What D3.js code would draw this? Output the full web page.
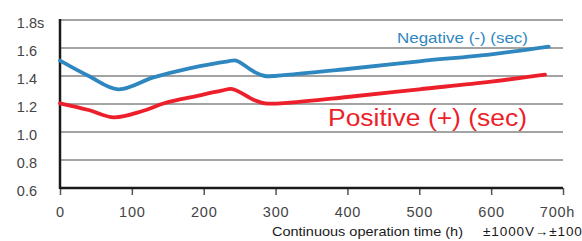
<!DOCTYPE html>
<html lang="en">
	<head>
		<meta charset="utf-8">
		<title>Continuous operation</title>
		<script type="text/javascript" src="https://cdn.jsdelivr.net/npm/d3@7"></script>
    <style>
      body{ margin: 0; background: white; }
      svg{ display: block; font-family: "Liberation Sans", Arial, "Noto Sans CJK JP", sans-serif; }
      g.grid line{ stroke: #a3a3a3; stroke-width: 2; }
      .series{ fill: none; stroke-width: 3.8; stroke-linejoin: round; stroke-linecap: round; }
    </style>
	</head>
	<body>
    <script type="text/javascript">

      // values
      const yTicks = [0.6, 0.8, 1.0, 1.2, 1.4, 1.6, 1.8];
      const xTicks = [0, 100, 200, 300, 400, 500, 600, 700];

      const negHours = [0, 40, 81, 130, 180, 234, 245, 270, 285, 320, 400, 500, 600, 680];
      const negValues = [1.51, 1.40, 1.305, 1.39, 1.455, 1.505, 1.51, 1.43, 1.40, 1.41, 1.45, 1.505, 1.555, 1.61];

      const posHours = [0, 40, 75, 115, 145, 190, 225, 240, 270, 285, 320, 400, 500, 600, 675];
      const posValues = [1.205, 1.157, 1.105, 1.15, 1.205, 1.257, 1.295, 1.307, 1.229, 1.205, 1.21, 1.25, 1.305, 1.36, 1.41];

      const width = 582, height = 241;
      const plotLeft = 60, plotRight = 563, plotTop = 20, plotBottom = 188;

      const x = d3.scaleLinear().domain([0, 700]).range([plotLeft, plotRight]);
      const y = d3.scaleLinear().domain([0.6, 1.8]).range([plotBottom, plotTop]);

      const svg = d3.select("body")
        .append("svg")
        .attr("width", width)
        .attr("height", height);

      // horizontal grid
      svg.append("g")
        .attr("class", "grid")
        .selectAll("line")
        .data(yTicks.slice(1))
        .join("line")
        .attr("x1", plotLeft)
        .attr("x2", plotRight)
        .attr("y1", (d) => y(d))
        .attr("y2", (d) => y(d));

      // y axis labels
      const yAxis = svg.append("g")
        .attr("transform", `translate(${plotLeft},0)`)
        .call(d3.axisLeft(y).tickValues(yTicks).tickSize(0).tickPadding(23).tickFormat(d3.format(".1f")));
      yAxis.select(".domain").remove();
      yAxis.attr("font-family", null);
      yAxis.selectAll("text")
        .attr("y", 3)
        .style("font-size", "14.5px")
        .attr("fill", "#444");
      svg.append("text")
        .attr("x", 37)
        .attr("y", y(1.8) + 3)
        .attr("dy", "0.32em")
        .attr("fill", "#444")
        .style("font-size", "14.5px")
        .text("s");

      // x axis
      const xAxis = svg.append("g")
        .attr("transform", `translate(0,${plotBottom})`)
        .call(d3.axisBottom(x).tickValues(xTicks).tickSize(7).tickPadding(12)
          .tickFormat((d) => d === 700 ? "700h" : d));
      xAxis.select(".domain").remove();
      xAxis.attr("font-family", null);
      xAxis.selectAll("line").attr("stroke", "#555").attr("stroke-width", 1.5);
      xAxis.selectAll("text")
        .style("font-size", "14.5px")
        .style("letter-spacing", "0.8px")
        .attr("fill", "#444");
      xAxis.selectAll(".tick:last-child text").attr("dx", -6);

      // black frame lines
      svg.append("line")
        .attr("x1", plotLeft).attr("x2", plotRight)
        .attr("y1", plotBottom).attr("y2", plotBottom)
        .attr("stroke", "#1a1a1a").attr("stroke-width", 2.5);
      svg.append("line")
        .attr("x1", plotLeft).attr("x2", plotLeft)
        .attr("y1", plotTop - 1).attr("y2", plotBottom + 1)
        .attr("stroke", "#1a1a1a").attr("stroke-width", 2.5);

      const line = d3.line()
        .x((d) => x(d[0]))
        .y((d) => y(d[1]))
        .curve(d3.curveCatmullRom.alpha(0.5));

      svg.append("path")
        .attr("class", "series")
        .attr("stroke", "#2f87c0")
        .attr("d", line(d3.zip(negHours, negValues)));

      svg.append("path")
        .attr("class", "series")
        .attr("stroke", "#ec1f2b")
        .attr("d", line(d3.zip(posHours, posValues)));

      // series labels
      svg.append("text")
        .attr("x", 397).attr("y", 43)
        .attr("fill", "#2f87c0")
        .style("font-size", "15px")
        .attr("textLength", 131)
        .attr("lengthAdjust", "spacingAndGlyphs")
        .text("Negative (-)  (sec)");

      svg.append("text")
        .attr("x", 328).attr("y", 126)
        .attr("fill", "#ec1f2b")
        .style("font-size", "23px")
        .attr("textLength", 199)
        .attr("lengthAdjust", "spacingAndGlyphs")
        .text("Positive (+)  (sec)");

      // axis title
      svg.append("text")
        .attr("x", 272).attr("y", 236)
        .attr("fill", "#1a1a1a")
        .style("font-size", "13.5px")
        .attr("textLength", 191)
        .attr("lengthAdjust", "spacingAndGlyphs")
        .text("Continuous operation time (h)");

      svg.append("text")
        .attr("x", 483).attr("y", 236)
        .attr("fill", "#1a1a1a")
        .style("font-size", "13.5px")
        .style("letter-spacing", "0.9px")
        .text("±1000V→±1000V");
    </script>
  </body>
</html>
